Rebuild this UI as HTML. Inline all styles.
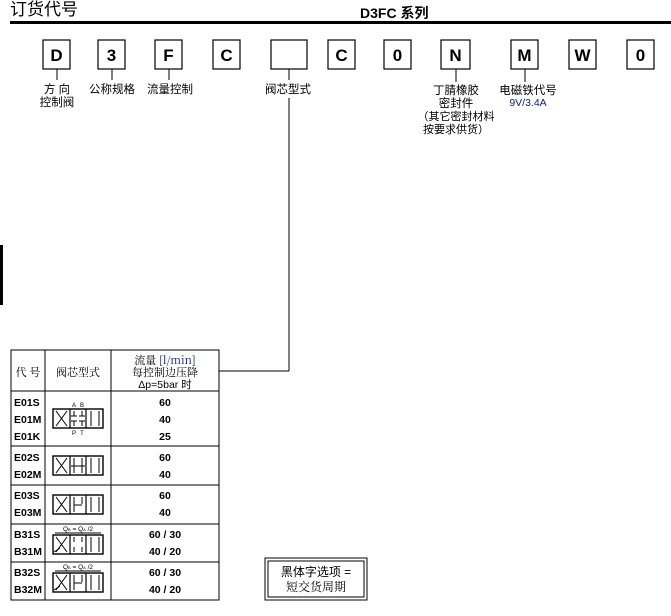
<!DOCTYPE html>
<html><head><meta charset="utf-8"><style>
html,body{margin:0;padding:0;background:#fff;}
body{width:671px;height:616px;overflow:hidden;position:relative;}
svg{position:absolute;left:0;top:0;}
text{font-family:"Liberation Sans","Noto Sans CJK SC",sans-serif;}
</style></head><body>
<svg width="671" height="616" viewBox="0 0 671 616" xmlns="http://www.w3.org/2000/svg">
<defs>
<g id="valve">
  <rect x="0" y="0" width="50" height="19" fill="none" stroke="#000" stroke-width="1.4"/>
  <line x1="17" y1="0" x2="17" y2="19" stroke="#000" stroke-width="1.2"/>
  <line x1="33" y1="0" x2="33" y2="19" stroke="#000" stroke-width="1.2"/>
  <line x1="3" y1="2" x2="14" y2="17" stroke="#000"/>
  <line x1="3" y1="17" x2="14" y2="2" stroke="#000"/>
  <line x1="38" y1="2" x2="38" y2="17" stroke="#000"/>
  <line x1="46" y1="2" x2="46" y2="17" stroke="#000"/>
</g>
</defs>
<!-- header -->
<text x="10" y="15" font-size="17">订货代号</text>
<text x="360" y="18" font-size="14" font-weight="bold">D3FC 系列</text>
<rect x="10" y="21" width="661" height="3" fill="#000"/>
<rect x="0" y="245" width="3" height="60" fill="#000"/>

<!-- boxes -->
<g fill="#fff" stroke="#000" stroke-width="1.2">
<rect x="43" y="40" width="27" height="29"/>
<rect x="98" y="40" width="27" height="29"/>
<rect x="155" y="40" width="27" height="29"/>
<rect x="213" y="40" width="27" height="29"/>
<rect x="271" y="40" width="36" height="29"/>
<rect x="328" y="40" width="27" height="29"/>
<rect x="384" y="40" width="27" height="29"/>
<rect x="441" y="40" width="29" height="29"/>
<rect x="511" y="40" width="27" height="29"/>
<rect x="569" y="40" width="27" height="29"/>
<rect x="627" y="40" width="27" height="29"/>
</g>
<g font-size="17" font-weight="bold" text-anchor="middle">
<text x="56.5" y="61">D</text><text x="111.5" y="61">3</text><text x="168.5" y="61">F</text>
<text x="226.5" y="61">C</text><text x="341.5" y="61">C</text><text x="397.5" y="61">0</text>
<text x="455.5" y="61">N</text><text x="524.5" y="61">M</text><text x="582.5" y="61">W</text>
<text x="640.5" y="61">0</text>
</g>
<g stroke="#000" stroke-width="1">
<line x1="57" y1="69" x2="57" y2="80"/>
<line x1="112" y1="69" x2="112" y2="80"/>
<line x1="169" y1="69" x2="169" y2="80"/>
<line x1="289" y1="69" x2="289" y2="80"/>
<line x1="289" y1="98" x2="289" y2="371"/>
<line x1="219" y1="371" x2="289" y2="371"/>
<line x1="456" y1="69" x2="456" y2="82"/>
<line x1="525" y1="69" x2="525" y2="82"/>
</g>
<g font-size="11.5" text-anchor="middle">
<text x="57" y="93">方 向</text><text x="57" y="106">控制阀</text>
<text x="112" y="93">公称规格</text>
<text x="170" y="93">流量控制</text>
<text x="288" y="93">阀芯型式</text>
<text x="456" y="94">丁腈橡胶</text><text x="456" y="107">密封件</text>
<text x="456" y="120" font-size="11">（其它密封材料</text><text x="456" y="133" font-size="11">按要求供货）</text>
<text x="528" y="94">电磁铁代号</text>
<text x="528" y="106" font-size="10.5" fill="#0a1a8a">9V/3.4A</text>
</g>

<!-- table -->
<g stroke="#000" stroke-width="1" fill="none">
<rect x="11" y="350" width="208" height="250"/>
<line x1="45" y1="350" x2="45" y2="600"/>
<line x1="111" y1="350" x2="111" y2="600"/>
<line x1="11" y1="391" x2="219" y2="391"/>
<line x1="11" y1="446" x2="219" y2="446"/>
<line x1="11" y1="485" x2="219" y2="485"/>
<line x1="11" y1="524" x2="219" y2="524"/>
<line x1="11" y1="562" x2="219" y2="562"/>
</g>
<g font-size="11" text-anchor="middle" font-family="'Liberation Serif','Noto Serif CJK SC',serif">
<text x="28" y="376" style="font-family:'Noto Serif CJK SC',serif">代 号</text>
<text x="78" y="376" style="font-family:'Noto Serif CJK SC',serif">阀芯型式</text>
<text x="165" y="364" style="font-family:'Noto Serif CJK SC',serif">流量 <tspan fill="#0a1a8a">[l/min]</tspan></text>
<text x="165" y="376" style="font-family:'Noto Serif CJK SC',serif">每控制边压降</text>
<text x="165" y="388" font-size="10.5">Δp=5bar 时</text>
</g>
<g font-size="10.5" font-weight="bold">
<text x="14" y="406">E01S</text><text x="14" y="423">E01M</text><text x="14" y="440">E01K</text>
<text x="14" y="461">E02S</text><text x="14" y="478">E02M</text>
<text x="14" y="499">E03S</text><text x="14" y="516">E03M</text>
<text x="14" y="538">B31S</text><text x="14" y="555">B31M</text>
<text x="14" y="576">B32S</text><text x="14" y="593">B32M</text>
</g>
<g font-size="10.5" font-weight="bold" text-anchor="middle">
<text x="165" y="406">60</text><text x="165" y="423">40</text><text x="165" y="440">25</text>
<text x="165" y="461">60</text><text x="165" y="478">40</text>
<text x="165" y="499">60</text><text x="165" y="516">40</text>
<text x="165" y="538">60 / 30</text><text x="165" y="555">40 / 20</text>
<text x="165" y="576">60 / 30</text><text x="165" y="593">40 / 20</text>
</g>
<!-- valve symbols -->
<use href="#valve" x="53" y="409"/>
<g font-size="6" text-anchor="middle"><text x="74" y="407">A</text><text x="82" y="407">B</text><text x="74" y="435">P</text><text x="82" y="435">T</text></g>
<g stroke="#000" stroke-width="1">
<line x1="74" y1="411" x2="74" y2="416"/><line x1="71" y1="416" x2="77" y2="416"/>
<line x1="82" y1="411" x2="82" y2="416"/><line x1="79" y1="416" x2="85" y2="416"/>
<line x1="74" y1="426" x2="74" y2="421"/><line x1="71" y1="421" x2="77" y2="421"/>
<line x1="82" y1="426" x2="82" y2="421"/><line x1="79" y1="421" x2="85" y2="421"/>
</g>
<use href="#valve" x="53" y="456"/>
<g stroke="#000" stroke-width="1">
<line x1="74" y1="458" x2="74" y2="473"/><line x1="82" y1="458" x2="82" y2="473"/>
<line x1="71" y1="466" x2="85" y2="466"/>
</g>
<use href="#valve" x="53" y="495"/>
<g stroke="#000" stroke-width="1">
<line x1="74" y1="497" x2="74" y2="512"/><line x1="82" y1="497" x2="82" y2="504"/>
<line x1="74" y1="505" x2="82" y2="505"/>
</g>
<g font-size="6.5" text-anchor="middle"><text x="78" y="531">Q<tspan font-size="4">B</tspan> = Q<tspan font-size="4">A</tspan> /2</text><text x="78" y="569">Q<tspan font-size="4">B</tspan> = Q<tspan font-size="4">A</tspan> /2</text></g>
<line x1="55" y1="533" x2="101" y2="533" stroke="#000"/>
<line x1="55" y1="571" x2="101" y2="571" stroke="#000"/>
<use href="#valve" x="53" y="535"/>
<g stroke="#000" stroke-width="1">
<line x1="74" y1="537" x2="74" y2="542"/><line x1="82" y1="537" x2="82" y2="542"/>
<line x1="74" y1="552" x2="74" y2="547"/><line x1="82" y1="552" x2="82" y2="547"/>
<line x1="54" y1="552" x2="60" y2="548"/>
</g>
<use href="#valve" x="53" y="573"/>
<g stroke="#000" stroke-width="1">
<line x1="74" y1="575" x2="74" y2="590"/><line x1="82" y1="575" x2="82" y2="582"/>
<line x1="74" y1="583" x2="82" y2="583"/>
<line x1="54" y1="590" x2="60" y2="586"/>
</g>

<!-- note box -->
<rect x="265" y="558" width="102" height="42" fill="none" stroke="#000" stroke-width="1"/>
<rect x="268" y="561" width="96" height="36" fill="none" stroke="#000" stroke-width="1"/>
<text x="316" y="576" font-size="12" text-anchor="middle">黑体字选项 =</text>
<text x="316" y="591" font-size="12" text-anchor="middle" style="font-family:'Noto Serif CJK SC',serif">短交货周期</text>
</svg>
</body></html>
